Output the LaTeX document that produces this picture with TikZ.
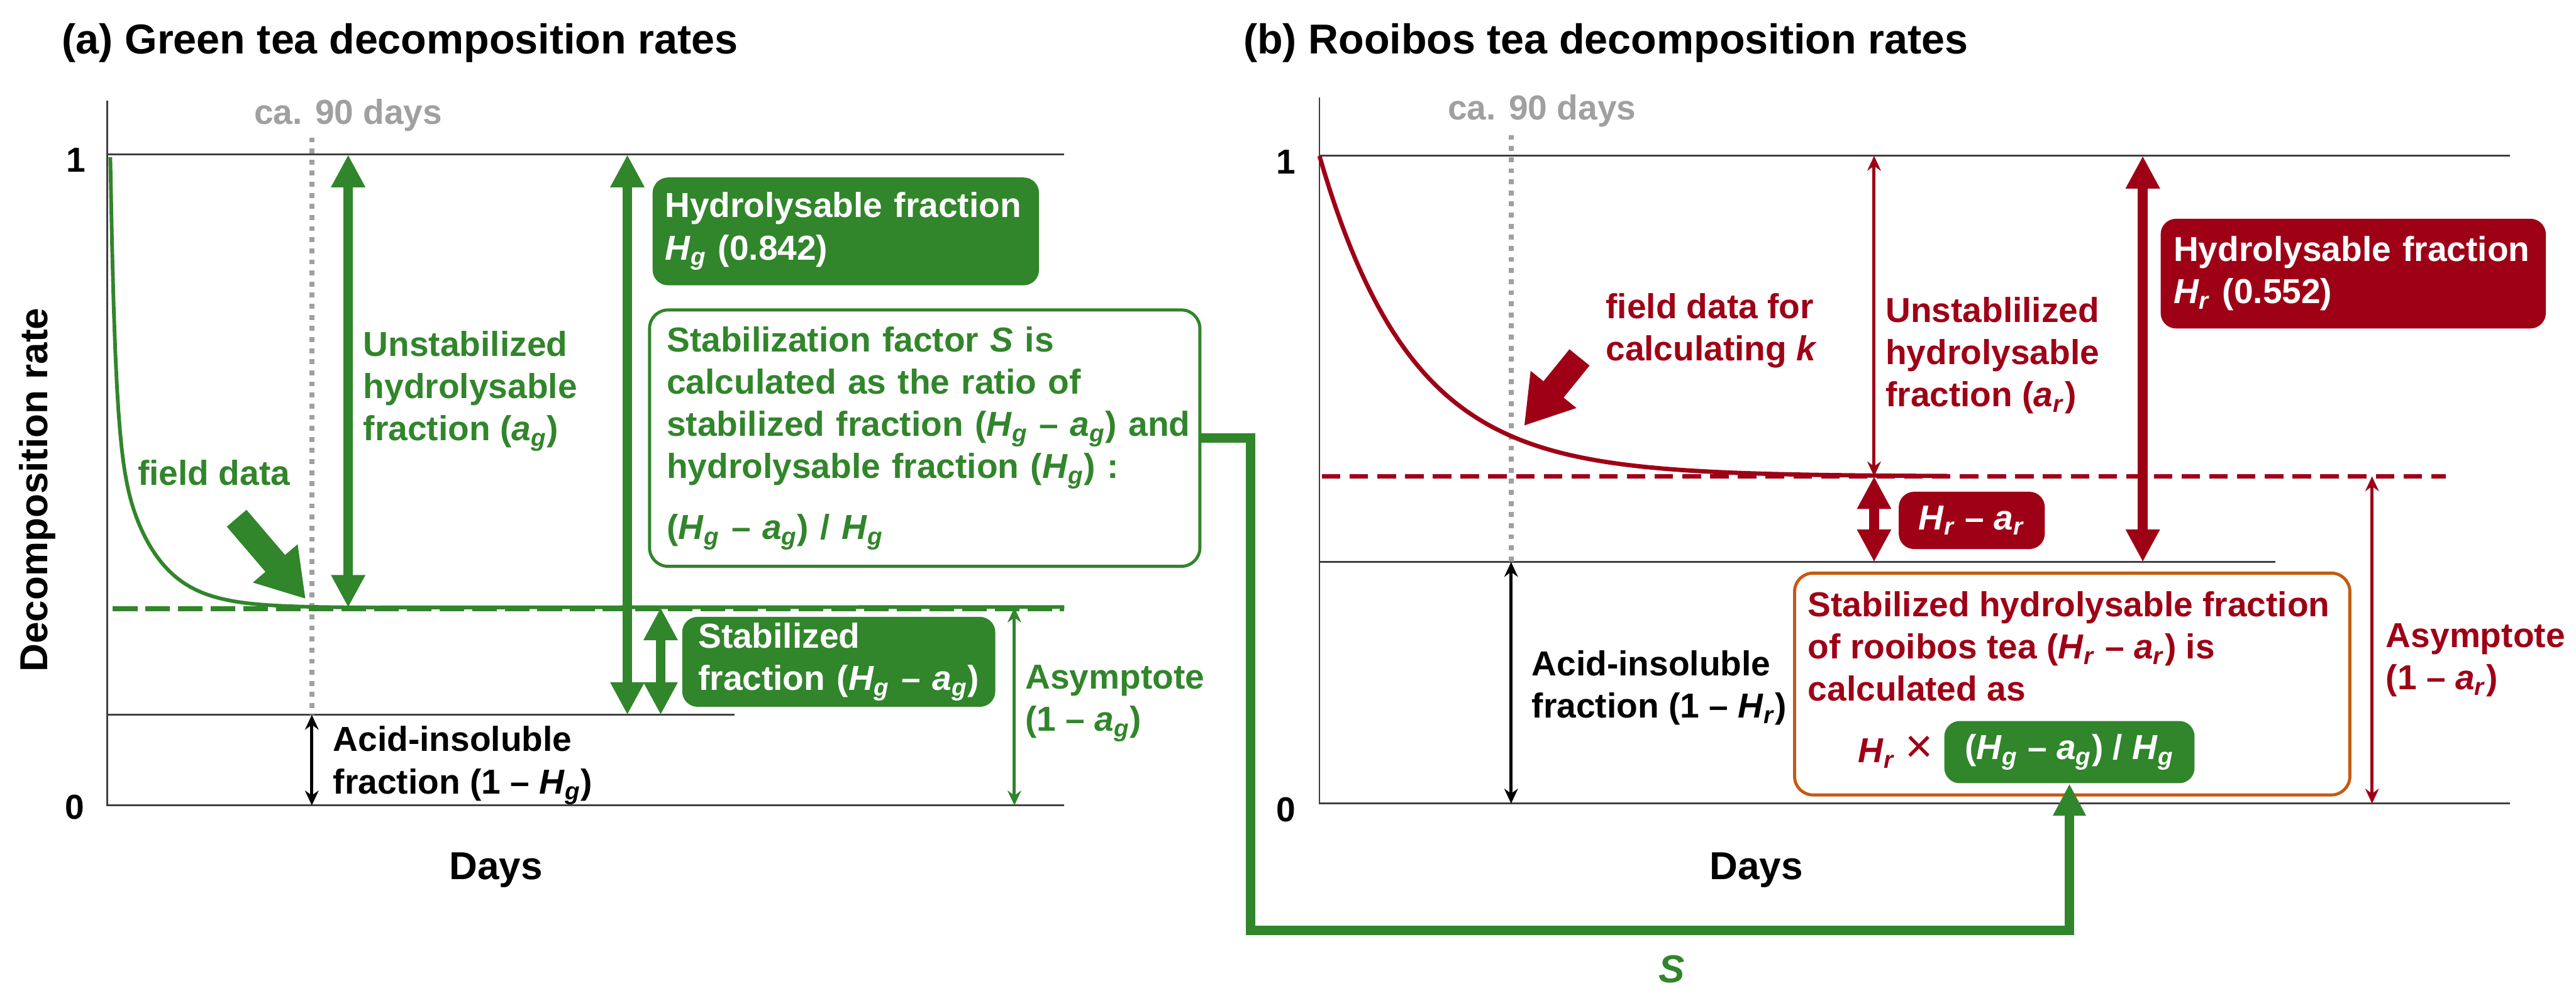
\documentclass[tikz,border=0pt]{standalone}
\usepackage{fontspec}
\setmainfont{Liberation Sans}
\usetikzlibrary{positioning,arrows.meta}
\definecolor{TeaGreen}{RGB}{49,133,43}
\definecolor{RooibosRed}{RGB}{158,0,22}
\definecolor{CalcOrange}{RGB}{197,90,17}
\definecolor{DayGray}{RGB}{160,160,160}
\definecolor{AxisGray}{RGB}{64,64,64}
\newcommand{\HG}{\textit{H}\textsubscript{\textit{g}}}
\newcommand{\AG}{\textit{a}\textsubscript{\textit{g}}}
\newcommand{\HR}{\textit{H}\textsubscript{\textit{r}}}
\newcommand{\AR}{\textit{a}\textsubscript{\textit{r}}}
\newcommand{\bodyfont}{\fontsize{16pt}{19.5pt}\selectfont\bfseries}
\newcommand{\titlefont}{\fontsize{19.3pt}{23pt}\selectfont\bfseries}
\newcommand{\axisfont}{\fontsize{18pt}{21pt}\selectfont\bfseries}

\begin{document}
\begin{tikzpicture}[x=1cm, y=-1cm,
  every node/.style={font=\bodyfont, inner sep=0pt},
  txt/.style={align=left, anchor=west},
  gtxt/.style={txt, text=TeaGreen},
  rtxt/.style={txt, text=RooibosRed},
  fillbox/.style={text=white, align=left, rounded corners=0.25cm},
  gbox/.style={fillbox, fill=TeaGreen},
  rbox/.style={fillbox, fill=RooibosRed},
  axisline/.style={AxisGray, line width=0.03cm},
  daysline/.style={DayGray, line width=0.08cm, dash pattern=on 0.08cm off 0.1cm},
  thinarr/.style={line width=0.05cm, arrows={Stealth[length=0.24cm,width=0.22cm]-Stealth[length=0.24cm,width=0.22cm]}},
  bigarr/.style={line width=0.16cm, arrows={Triangle[length=0.53cm,width=0.52cm]-Triangle[length=0.53cm,width=0.52cm]}},
  pointer/.style={line width=0.42cm, arrows={-Triangle[length=0.76cm,width=0.9cm]}},
  sflow/.style={TeaGreen, line width=0.15cm, arrows={-Triangle[length=0.52cm,width=0.5cm]}}]

  \useasboundingbox (0,0) rectangle (41.80,16.19);

  % (a) green tea
  \coordinate (topA) at (1.74,2.51);
  \coordinate (asymA) at (1.79,9.86);
  \coordinate (acidA) at (1.74,11.60);
  \coordinate (zeroA) at (1.74,13.07);
  \coordinate (dayA) at (5.06,0);
  \coordinate (uA) at (5.65,0);
  \coordinate (hA) at (10.18,0);
  \coordinate (sA) at (10.72,0);
  \coordinate (yA) at (16.46,0);

  \node[anchor=west, font=\titlefont] (titleA) at (1.00,0.70) {(a) Green tea decomposition rates};
  \node[text=DayGray] (daysA) at (5.65,1.87) {ca. 90 days};
  \node (oneA) at (1.23,2.60) {1};
  \node (nullA) at (1.21,13.10) {0};
  \node[font=\axisfont, rotate=90] (ylabA) at (0.61,7.95) {Decomposition rate};
  \node[font=\axisfont] (xlabA) at (8.05,14.12) {Days};

  \draw[axisline] (1.74,1.63) -- (zeroA) -- (17.27,13.07);
  \draw[axisline] (topA) -- (17.27,2.51);
  \draw[axisline] (acidA) -- (11.92,11.60);
  \draw[daysline] (5.06,2.23) -- (5.06,11.60);

  \draw[TeaGreen, line width=0.08cm, dash pattern=on 0.4cm off 0.13cm] (1.83,9.88) -- (17.27,9.88);
  \draw[TeaGreen, line width=0.06cm] plot[domain=1.79:6, samples=160]
    (\x, {9.86 - 7.31*(0.6*exp(-(\x-1.79)/0.08) + 0.4*exp(-(\x-1.79)/0.6))}) -- (17.27,9.85);

  \coordinate (ptailA) at (3.84,8.41);
  \coordinate (ptipA) at (4.96,9.72);
  \draw[pointer, TeaGreen] (ptailA) -- (ptipA);

  \draw[thinarr] (dayA |- acidA) -- (dayA |- zeroA);
  \draw[bigarr, TeaGreen] (uA |- topA) -- (uA |- asymA);
  \draw[bigarr, TeaGreen] (hA |- topA) -- (hA |- acidA);
  \draw[bigarr, TeaGreen] (sA |- asymA) -- (sA |- acidA);
  \draw[thinarr, TeaGreen] (yA |- asymA) -- (yA |- zeroA);

  \node[gtxt] (fieldA) at (2.23,7.67) {field data};
  \node[gtxt] (unstabA) at (5.89,6.35) {Unstabilized\\hydrolysable\\fraction (\AG)};
  \node[txt] (acidtxtA) at (5.40,12.42) {Acid-insoluble\\fraction (1 – \HG)};
  \node[gtxt] (asymtxtA) at (16.63,11.41) {Asymptote\\(1 – \AG)};

  \node[gbox, text width=5.87cm, inner xsep=0.2cm, minimum height=1.75cm] (hydA) at (13.725,3.755)
    {Hydrolysable fraction\\\HG{} (0.842)};
  \node[gbox, text width=4.56cm, inner xsep=0.26cm, minimum height=1.46cm] (stabfrA) at (13.61,10.74)
    {Stabilized\\fraction (\HG{} – \AG)};
  \node[draw=TeaGreen, line width=0.05cm, fill=white, text=TeaGreen, rounded corners=0.3cm, align=left,
        text width=8.37cm, inner xsep=0.28cm, minimum height=4.16cm] (stabA) at (15.005,7.11)
    {\makebox[8.37cm][s]{Stabilization factor \textit{S} is}\\
     \makebox[8.37cm][s]{calculated as the ratio of}\\
     \makebox[8.37cm][s]{stabilized fraction (\HG{} – \AG) and}\\
     hydrolysable fraction (\HG{}) :\\[0.3cm]
     (\HG{} – \AG) / \HG};

  % (b) rooibos tea
  \coordinate (topB) at (21.41,2.53);
  \coordinate (asymB) at (21.45,7.73);
  \coordinate (acidB) at (21.41,9.12);
  \coordinate (zeroB) at (21.41,13.04);
  \coordinate (dayB) at (24.52,0);
  \coordinate (uB) at (30.41,0);
  \coordinate (hB) at (34.77,0);
  \coordinate (yB) at (38.49,0);

  \node[anchor=west, font=\titlefont] (titleB) at (20.17,0.70) {(b) Rooibos tea decomposition rates};
  \node[text=DayGray] (daysB) at (25.02,1.80) {ca. 90 days};
  \node (oneB) at (20.87,2.63) {1};
  \node (nullB) at (20.87,13.14) {0};
  \node[font=\axisfont] (xlabB) at (28.50,14.12) {Days};

  \draw[axisline] (21.41,1.58) -- (zeroB) -- (40.73,13.04);
  \draw[axisline] (topB) -- (40.73,2.53);
  \draw[axisline] (acidB) -- (36.92,9.12);
  \draw[daysline] (24.52,2.19) -- (24.52,9.12);

  \draw[RooibosRed, line width=0.07cm, dash pattern=on 0.3cm off 0.15cm] (asymB) -- (39.69,7.73);
  \draw[RooibosRed, line width=0.07cm] plot[domain=21.41:31.6, samples=120]
    (\x, {7.73 - 5.2*exp(-(\x-21.41)/1.5)});

  \coordinate (ptailB) at (25.63,5.80);
  \coordinate (ptipB) at (24.73,6.91);
  \draw[pointer, RooibosRed] (ptailB) -- (ptipB);

  \draw[thinarr] (dayB |- acidB) -- (dayB |- zeroB);
  \draw[thinarr, RooibosRed] (uB |- topB) -- (uB |- asymB);
  \draw[bigarr, RooibosRed] (uB |- asymB) -- (uB |- acidB);
  \draw[bigarr, RooibosRed] (hB |- topB) -- (hB |- acidB);
  \draw[thinarr, RooibosRed] (yB |- asymB) -- (yB |- zeroB);

  \node[rtxt] (fieldB) at (26.05,5.37) {field data for\\calculating \textit{k}};
  \node[rtxt] (unstabB) at (30.59,5.77) {Unstablilized\\hydrolysable\\fraction (\AR)};
  \node[txt] (acidtxtB) at (24.85,11.16) {Acid-insoluble\\fraction (1 – \HR)};
  \node[rtxt] (asymtxtB) at (38.71,10.71) {Asymptote\\(1 – \AR)};

  \node[rbox, text width=5.83cm, inner xsep=0.21cm, minimum height=1.78cm] (hydB) at (38.185,4.44)
    {Hydrolysable fraction\\\HR{} (0.552)};
  \node[rbox, align=center, minimum width=2.37cm, minimum height=0.93cm] (diffB) at (31.995,8.445)
    {\HR{} – \AR};

  \node[draw=CalcOrange, line width=0.05cm, fill=white, rounded corners=0.3cm,
        minimum width=9.01cm, minimum height=3.60cm] (calcB) at (33.625,11.10) {};
  \node[rtxt] (calctxtB) at (29.33,10.49)
    {Stabilized hydrolysable fraction\\of rooibos tea (\HR{} – \AR) is\\calculated as};
  \node[gbox, align=center, minimum width=4.06cm, minimum height=1.01cm] (ratioB) at (33.58,12.205)
    {(\HG{} – \AG) / \HG};
  \node[text=RooibosRed, left=0.17cm of ratioB] (timesB)
    {\HR{} {\mdseries\fontsize{22pt}{22pt}\selectfont ×}};

  % S carried from (a) to (b)
  \coordinate (sturn) at (20.29,15.10);
  \draw[sflow] (stabA.east) -| (sturn) -| (ratioB.south);
  \node[font=\axisfont, text=TeaGreen] (slabel) at (27.13,15.73) {\textit{S}};
\end{tikzpicture}
\end{document}
